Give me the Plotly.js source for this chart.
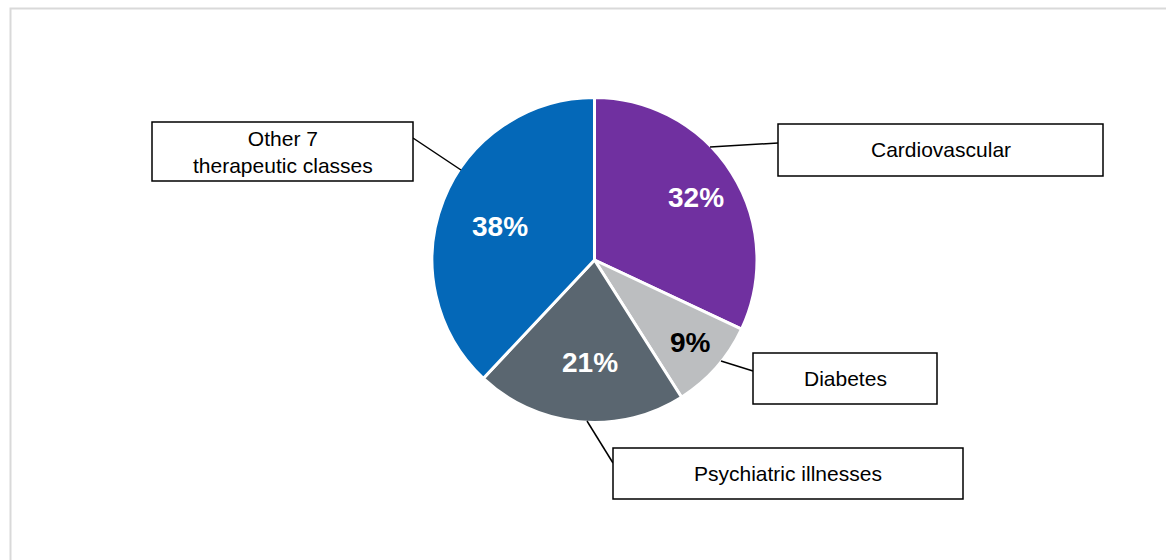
<!DOCTYPE html>
<html>
<head>
<meta charset="utf-8">
<script src="https://cdn.plot.ly/plotly-3.0.1.min.js"></script>
<style>
html,body{margin:0;padding:0;background:#fff;}
#chart{width:1166px;height:560px;}
</style>
</head>
<body>
<div id="chart"></div>
<script>
// Data
var categories = ["Cardiovascular", "Diabetes", "Psychiatric illnesses", "Other 7<br>therapeutic classes"];
var shares = [32, 9, 21, 38];
var sliceColors = ["#7030A0", "#BCBEC0", "#5A6670", "#0468B8"];
var pctTextColors = ["#ffffff", "#000000", "#ffffff", "#ffffff"];

// Layout helpers (pixels -> paper)
var W = 1166, H = 560;
function px(x){ return x / W; }
function py(y){ return 1 - y / H; }

// callout boxes [x0, y0, x1, y1], leader lines [xs, ys, xe, ye], percentage label spots [x, y] in pixels
var boxes = [
  [778, 124, 1103, 176],
  [753, 353, 937, 404],
  [613, 448, 963, 499],
  [152, 122, 413, 181]
];
var leaders = [
  [710, 147, 778, 143],
  [721, 361, 753, 371],
  [587, 421, 613, 463],
  [461, 170, 413, 138]
];
var pctSpots = [
  [696, 197],
  [690, 342],
  [590, 362],
  [500, 226]
];

var shapes = [{
  type: 'rect', xref: 'paper', yref: 'paper',
  x0: px(10.5), y0: py(600), x1: px(1200), y1: py(8.5),
  line: {color: '#d9d9d9', width: 2}, fillcolor: 'rgba(0,0,0,0)'
}];
var annotations = [];
var total = shares.reduce(function(a, b){ return a + b; }, 0);
for (var i = 0; i < categories.length; i++) {
  var b = boxes[i], l = leaders[i], p = pctSpots[i];
  shapes.push({type: 'line', xref: 'paper', yref: 'paper',
    x0: px(l[0]), y0: py(l[1]), x1: px(l[2]), y1: py(l[3]),
    line: {color: '#000', width: 1.5}});
  shapes.push({type: 'rect', xref: 'paper', yref: 'paper',
    x0: px(b[0]), y0: py(b[1]), x1: px(b[2]), y1: py(b[3]),
    line: {color: '#000', width: 1.5}, fillcolor: '#fff'});
  annotations.push({xref: 'paper', yref: 'paper',
    x: px((b[0] + b[2]) / 2), y: py((b[1] + b[3]) / 2),
    xanchor: 'center', yanchor: 'middle', showarrow: false,
    text: categories[i],
    font: {family: 'Liberation Sans, Arial, sans-serif', size: 21, color: '#000'}});
  annotations.push({xref: 'paper', yref: 'paper',
    x: px(p[0]), y: py(p[1]),
    xanchor: 'center', yanchor: 'middle', showarrow: false,
    text: '<b>' + Math.round(shares[i] / total * 100) + '%</b>',
    font: {family: 'Liberation Sans, Arial, sans-serif', size: 28, color: pctTextColors[i]}});
}

var trace = {
  type: 'pie',
  labels: categories,
  values: shares,
  sort: false,
  direction: 'clockwise',
  rotation: 0,
  marker: {colors: sliceColors, line: {color: '#ffffff', width: 3}},
  textinfo: 'none',
  textposition: 'none',
  hoverinfo: 'none',
  domain: {x: [px(432), px(757)], y: [py(423), py(97)]},
  showlegend: false
};

var layout = {
  width: W, height: H,
  margin: {l: 0, r: 0, t: 0, b: 0},
  paper_bgcolor: '#fff',
  showlegend: false,
  shapes: shapes,
  annotations: annotations
};

Plotly.newPlot('chart', [trace], layout, {displayModeBar: false, staticPlot: true});
</script>
</body>
</html>
